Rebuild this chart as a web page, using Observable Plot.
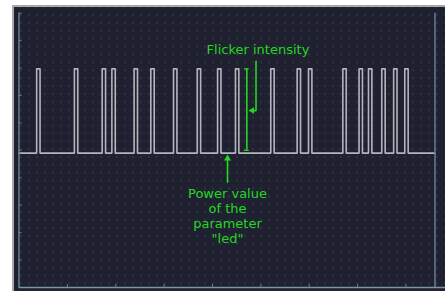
<!DOCTYPE html>
<html><head><meta charset="utf-8">
<script src="https://cdn.jsdelivr.net/npm/d3@7"></script>
<script src="https://cdn.jsdelivr.net/npm/@observablehq/plot@0.6"></script>
<style>
html,body{margin:0;padding:0;background:#fff;}
#wrap{position:relative;width:445px;height:291px;overflow:hidden;background:#fff;}
#panel{position:absolute;left:12px;top:5px;right:0;bottom:0;background-color:#202130;border-left:2px solid #a9a9ad;border-top:2px solid #a9a9ad;
background-image:radial-gradient(circle, rgba(120,130,155,0.16) 0.7px, transparent 1.1px);background-size:8px 7.9px;background-position:3px 4px;}
#chart{position:absolute;left:0;top:0;}
#chart svg{font-family:"DejaVu Sans",sans-serif;}
</style></head><body>
<div id="wrap"><div id="panel"></div><div id="chart"></div></div>
<script>
// pulse start times (x units; axis ticks every 10)
const pulseStarts = [3.65, 11.45, 17.2, 19.2, 23.8, 27.25, 31.95, 36.85, 41.05, 44.75, 52.05, 57.5, 59.85, 66.95, 70.3, 72.25, 75.0, 77.45, 79.75];
const pulseWidth = 0.7;
const lowLevel = 4.9;
const highLevel = 7.97;
const xStart = 0, xEnd = 86;
const xTicks = [10, 20, 30, 40, 50, 60, 70, 80];
const yTicks = [1, 2, 3, 4, 5, 6, 7, 8, 9, 10];

// annotations (data units)
const flickerLabel = [{x: 49.4, y: 8.68, text: "Flicker intensity"}];
const flickerBar = [{x: 47.1, y1: lowLevel + 0.1, y2: highLevel}];
const flickerPointer = [{x: 49.0, y: 8.25}, {x: 49.0, y: 6.45}, {x: 48.2, y: 6.45}];
const flickerHead = [{x: 48.2, y: 6.45}];
const powerArrow = [{x: 43.1, y: 3.84}, {x: 43.1, y: 4.66}];
const powerHead = [{x: 43.1, y: 4.7}];
const powerLabel = [{x: 43.1, y: 2.62, text: "Power value\nof the\nparameter\n\"led\""}];

const signal = [{x: xStart, y: lowLevel}];
for (const s of pulseStarts) {
  signal.push({x: s, y: lowLevel}, {x: s, y: highLevel}, {x: s + pulseWidth, y: highLevel}, {x: s + pulseWidth, y: lowLevel});
}
signal.push({x: xEnd, y: lowLevel});

const axisColor = "#66818f";
const green = "#22d822";

const chart = Plot.plot({
  width: 445, height: 291,
  marginLeft: 18.5, marginRight: 10.5, marginTop: 12.7, marginBottom: 4,
  x: {domain: [xStart, xEnd]},
  y: {domain: [0, 10]},
  style: {background: "transparent", overflow: "visible"},
  marks: [
    Plot.line(signal, {x: "x", y: "y", stroke: "#b4b4bc", strokeWidth: 1.6, curve: "linear"}),
    Plot.ruleX([xStart], {y1: 0, y2: 10, stroke: axisColor, strokeWidth: 1.5}),
    Plot.ruleX([xEnd], {y1: 0, y2: 10, stroke: axisColor, strokeWidth: 1.5}),
    Plot.ruleY([0], {x1: xStart, x2: 88.5, stroke: "#7a96a4", strokeWidth: 1.5}),
    Plot.axisY({ticks: yTicks, tickSize: -3, tickFormat: () => "", label: null, stroke: axisColor}),
    Plot.axisX({ticks: xTicks, tickSize: -3, tickFormat: () => "", label: null, stroke: axisColor}),
    // annotations
    Plot.text(flickerLabel, {x: "x", y: "y", text: "text", fill: green, fontSize: 13, textAnchor: "middle", lineAnchor: "middle"}),
    Plot.ruleX(flickerBar, {x: "x", y1: "y1", y2: "y2", stroke: green, strokeWidth: 1.6}),
    Plot.ruleY(flickerBar, {y: "y1", x1: d => d.x - 0.5, x2: d => d.x + 0.5, stroke: green, strokeWidth: 1.3}),
    Plot.ruleY(flickerBar, {y: "y2", x1: d => d.x - 0.5, x2: d => d.x + 0.5, stroke: green, strokeWidth: 1.3}),
    Plot.line(flickerPointer, {x: "x", y: "y", stroke: green, strokeWidth: 1.6}),
    Plot.dot(flickerHead, {x: "x", y: "y", symbol: "triangle", r: 2.4, fill: green, rotate: -90}),
    Plot.line(powerArrow, {x: "x", y: "y", stroke: green, strokeWidth: 1.6}),
    Plot.dot(powerHead, {x: "x", y: "y", symbol: "triangle", r: 2.6, fill: green}),
    Plot.text(powerLabel, {x: "x", y: "y", text: "text", fill: green, fontSize: 13, textAnchor: "middle", lineAnchor: "middle", lineHeight: 1.15})
  ]
});
document.getElementById("chart").appendChild(chart);
</script>
</body></html>
